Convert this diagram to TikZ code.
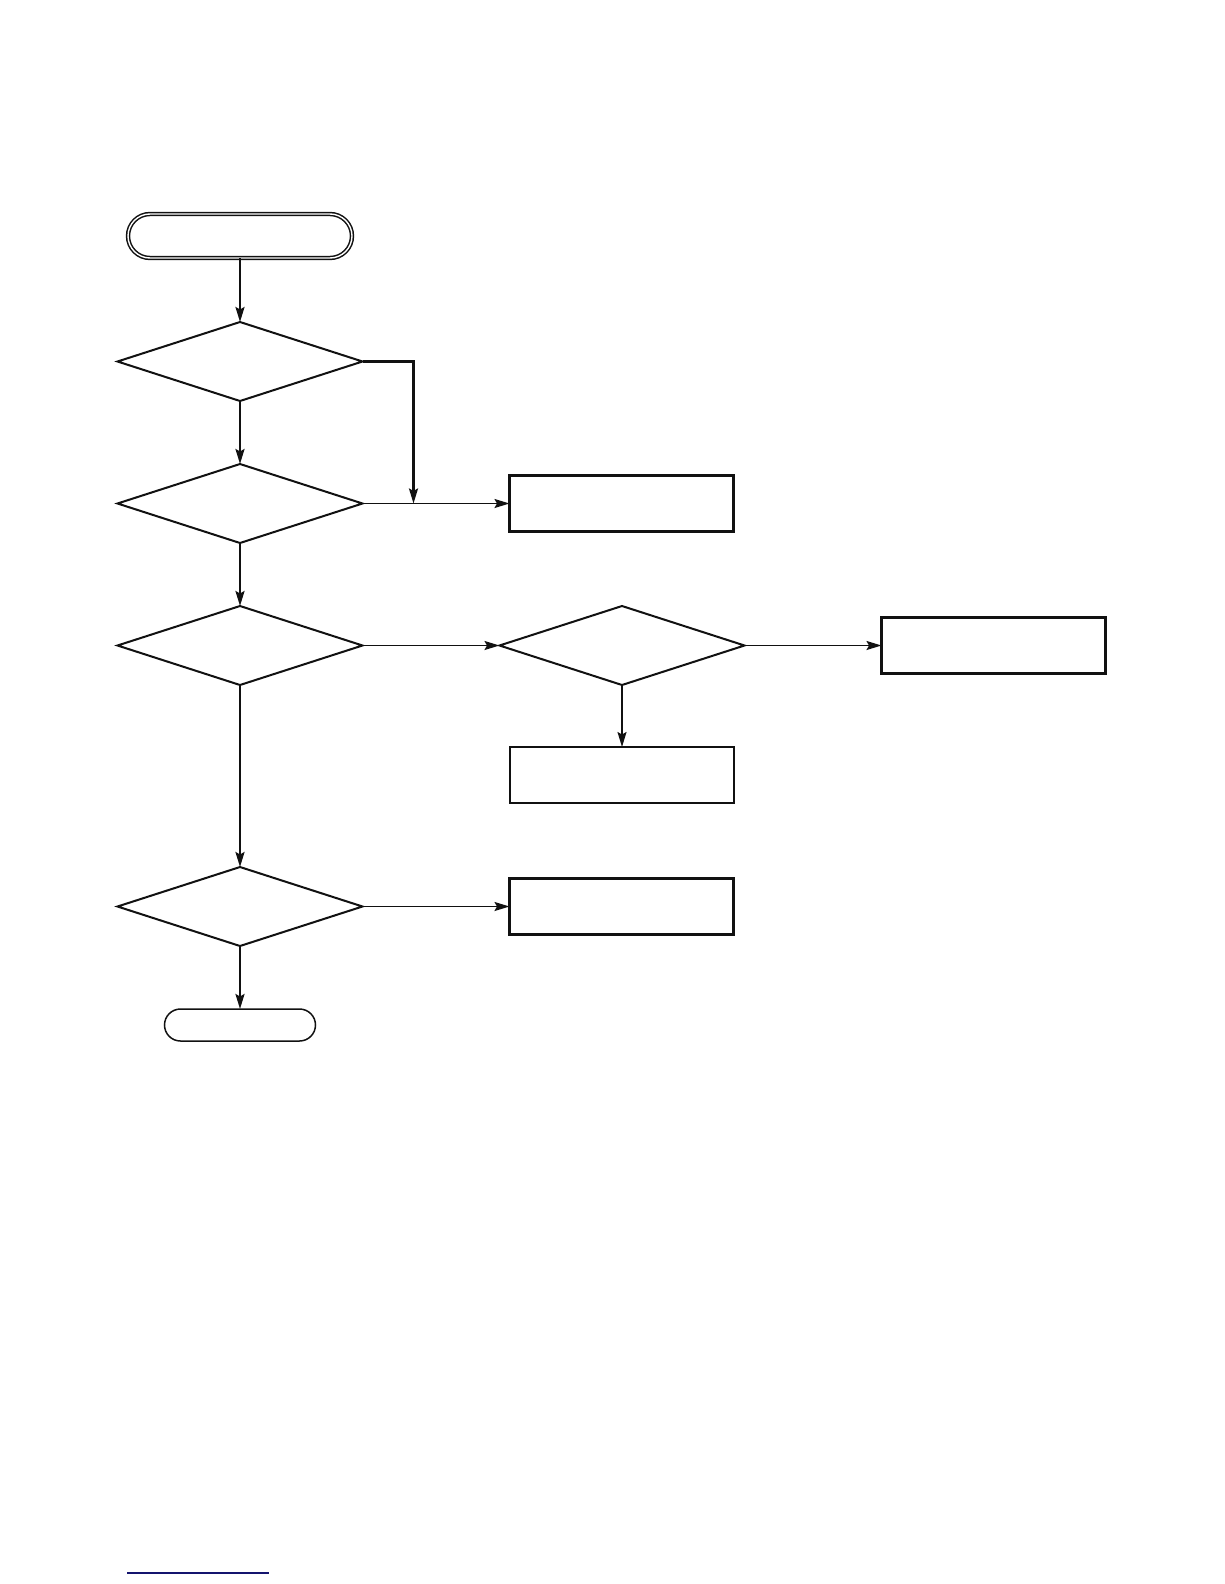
\documentclass[tikz,border=0pt]{standalone}
\usepackage{tikz}
\usetikzlibrary{positioning,arrows.meta,shapes.geometric,shapes.misc,calc}
\definecolor{ink}{HTML}{111111}
\definecolor{linkc}{HTML}{14146E}
\tikzset{
  term/.style={draw=ink, rounded rectangle, line width=1.5pt, outer sep=0pt,
               inner sep=0pt, minimum width=224pt, minimum height=44pt},
  stopn/.style={draw=ink, rounded rectangle, line width=1.5pt, outer sep=0pt,
                inner sep=0pt, minimum width=151pt, minimum height=32pt},
  ask/.style={draw=ink, diamond, line width=2pt, outer sep=0pt, inner sep=0pt,
              minimum width=245pt, minimum height=79pt},
  act/.style={draw=ink, rectangle, line width=2.2pt, outer sep=0pt, inner sep=0pt,
              minimum width=224pt, minimum height=56pt},
  ar/.style={-{Stealth[length=15pt, width=9pt, inset=2.5pt]}, line width=2.2pt, color=ink},
  arthin/.style={ar, line width=1.6pt},
}
\begin{document}
\begin{tikzpicture}[x=1pt, y=-1pt]
\useasboundingbox (0,0) rectangle (1224,1584);

% main column
\node[term, double=white, double distance=1.4pt] (start) at (240,236) {};
\node[ask] (d1) [below=64pt of start] {};
\node[ask] (d2) [below=63pt of d1] {};
\node[ask] (d3) [below=63pt of d2] {};
\node[ask] (d5) [below=182pt of d3] {};
\node[stopn] (stop) [below=63pt of d5] {};

\draw[ar] (start) -- (d1);
\draw[ar] (d1) -- (d2);
\draw[ar] (d2) -- (d3);
\draw[ar] (d3) -- (d5);
\draw[ar] (d5) -- (stop);

% branches
\node[act] (box1) [right=147pt of d2] {};
\coordinate (join) at ($(d2.east)+(51,0)$);
\draw[ar] (d1.east) -| (join);
\draw[arthin] (d2.east) -- (box1);

\node[ask] (d4) [right=137pt of d3] {};
\node[act] (box2) [right=137pt of d4] {};
\node[act] (box3) [below=62pt of d4] {};
\draw[arthin] (d3.east) -- (d4);
\draw[arthin] (d4.east) -- (box2);
\draw[arthin] (d4.south) -- (box3);

\node[act] (box4) [right=147pt of d5] {};
\draw[arthin] (d5.east) -- (box4);

% footer rule
\draw[linkc, line width=1.5pt] (127,1573) -- (269,1573);
\end{tikzpicture}
\end{document}
